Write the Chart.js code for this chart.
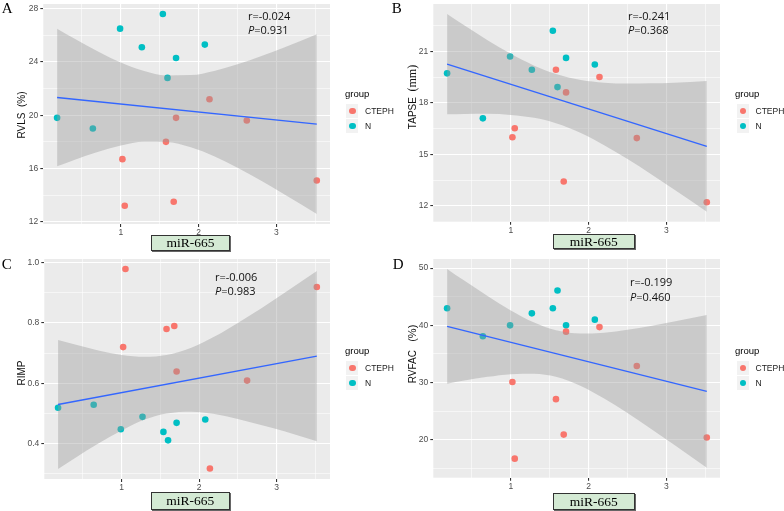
<!DOCTYPE html>
<html><head><meta charset="utf-8">
<script src="https://cdn.jsdelivr.net/npm/chart.js@4.4.1/dist/chart.umd.min.js"></script>
<style>
html,body{margin:0;padding:0;background:#fff;}
#wrap{position:relative;width:784px;height:511px;overflow:hidden;background:#fff;}
canvas{position:absolute;}
.t{position:absolute;white-space:nowrap;}
.letter{font-family:'Liberation Serif',serif;font-size:15px;line-height:15px;color:#000;}
.ann{font-family:'Open Sans',sans-serif;font-size:11px;line-height:14.4px;color:#111;}
.ytitle{font-family:'Liberation Sans',sans-serif;font-size:10px;line-height:11px;color:#111;transform:translate(-50%,-50%) rotate(-90deg);}
.box{position:absolute;background:#d4ead4;border:1px solid #333;box-shadow:1px 1px 0 #666;font-family:'Liberation Serif',serif;font-size:13.5px;text-align:center;box-sizing:border-box;color:#000;}
.lg{position:absolute;white-space:nowrap;font-family:'Liberation Sans',sans-serif;color:#000;}
.key{position:absolute;width:12px;height:14.5px;background:#f2f2f2;}
.dot{position:absolute;width:6.6px;height:6.6px;border-radius:50%;}
</style></head>
<body>
<div id="wrap"></div>
<script>
// ---------------- data ----------------
const groups = ['CTEPH', 'N'];
const groupColors = ['#F8766D', '#00BFC4'];
const xLabel = 'miR-665';

// miR-665 expression (x) for each group
const xCTEPH = [1.02, 1.05, 1.58, 1.68, 1.71, 2.14, 2.62, 3.52];
const xN     = [0.18, 0.64, 0.99, 1.27, 1.54, 1.60, 1.71, 2.08];

// y variables
const rvlsCTEPH  = [16.7, 13.2, 18.0, 13.5, 19.8, 21.2, 19.6, 15.1];
const rvlsN      = [19.8, 19.0, 26.5, 25.1, 27.6, 22.8, 24.3, 25.3];
const tapseCTEPH = [16.0, 16.52, 19.93, 13.42, 18.61, 19.51, 15.95, 12.21];
const tapseN     = [19.72, 17.1, 20.7, 19.93, 22.2, 18.92, 20.62, 20.24];
const rimpCTEPH  = [0.72, 0.979, 0.78, 0.79, 0.639, 0.318, 0.609, 0.919];
const rimpN      = [0.519, 0.529, 0.448, 0.489, 0.439, 0.411, 0.469, 0.480];
const rvfacCTEPH = [30.1, 16.7, 27.1, 20.9, 38.9, 39.7, 32.9, 20.4];
const rvfacN     = [43.0, 38.1, 40.0, 42.1, 43.0, 46.1, 40.0, 41.0];

// fitted line ends and confidence band
const fitX = [0.18, 3.52];
const rvlsFit  = [21.33, 19.33];
const tapseFit = [20.26, 15.47];
const rimpFit  = [0.530, 0.690];
const rvfacFit = [39.83, 28.47];
const bandX = [0.18, 0.4, 0.7, 1.0, 1.3, 1.58, 1.9, 2.2, 2.5, 2.8, 3.1, 3.52];
const rvlsUpper  = [26.50, 25.76, 24.81, 23.96, 23.32, 22.99, 23.01, 23.32, 23.82, 24.43, 25.09, 26.08];
const rvlsLower  = [16.16, 16.64, 17.23, 17.72, 18.00, 17.99, 17.59, 16.92, 16.06, 15.09, 14.07, 12.58];
const tapseUpper = [23.18, 22.52, 21.65, 20.86, 20.17, 19.68, 19.33, 19.18, 19.13, 19.14, 19.18, 19.28];
const tapseLower = [17.34, 17.36, 17.37, 17.30, 17.13, 16.82, 16.25, 15.54, 14.73, 13.86, 12.96, 11.66];
const rimpUpper  = [0.744, 0.729, 0.709, 0.694, 0.688, 0.694, 0.718, 0.755, 0.800, 0.848, 0.899, 0.972];
const rimpLower  = [0.316, 0.353, 0.401, 0.444, 0.480, 0.500, 0.506, 0.498, 0.482, 0.462, 0.441, 0.408];
const rvfacUpper = [49.87, 47.82, 45.12, 42.61, 40.49, 39.14, 38.56, 38.71, 39.22, 39.90, 40.67, 41.83];
const rvfacLower = [29.79, 30.34, 31.00, 31.47, 31.55, 31.00, 29.40, 27.21, 24.66, 21.94, 19.13, 15.11];

// ticks
const xTicks = [1, 2, 3];
const xTickLabels = ['1', '2', '3'];
const xMinor = [0.5, 1.5, 2.5, 3.5];
const rvlsTicks = [12, 16, 20, 24, 28];   const rvlsTickLabels = ['12', '16', '20', '24', '28'];   const rvlsMinor = [14, 18, 22, 26];
const tapseTicks = [12, 15, 18, 21];      const tapseTickLabels = ['12', '15', '18', '21'];       const tapseMinor = [13.5, 16.5, 19.5, 22.5];
const rimpTicks = [0.4, 0.6, 0.8, 1.0];   const rimpTickLabels = ['0.4', '0.6', '0.8', '1.0'];    const rimpMinor = [0.3, 0.5, 0.7, 0.9];
const rvfacTicks = [20, 30, 40, 50];      const rvfacTickLabels = ['20', '30', '40', '50'];       const rvfacMinor = [15, 25, 35, 45];

// stats text
const statR = ['r=-0.024', 'r=-0.241', 'r=-0.006', 'r=-0.199'];
const statP = ['0.931', '0.368', '0.983', '0.460'];
const panelLetters = ['A', 'B', 'C', 'D'];

// ---------------- layout ----------------
const panels = [
  {left:0, top:0, w:390, h:255, area:{l:43.3, t:1.5, r:330, b:224}, yMin:11.83, yMax:28.35,
   yC:rvlsCTEPH, yN:rvlsN, fit:rvlsFit, up:rvlsUpper, lo:rvlsLower, ticks:rvlsTicks, tickLabels:rvlsTickLabels, minor:rvlsMinor},
  {left:390, top:0, w:394, h:255, area:{l:43.3, t:1, r:330, b:221.7}, yMin:11.08, yMax:23.76,
   yC:tapseCTEPH, yN:tapseN, fit:tapseFit, up:tapseUpper, lo:tapseLower, ticks:tapseTicks, tickLabels:tapseTickLabels, minor:tapseMinor},
  {left:0, top:255, w:390, h:256, area:{l:44.3, t:1, r:330, b:224}, yMin:0.283, yMax:1.012,
   yC:rimpCTEPH, yN:rimpN, fit:rimpFit, up:rimpUpper, lo:rimpLower, ticks:rimpTicks, tickLabels:rimpTickLabels, minor:rimpMinor},
  {left:390, top:255, w:394, h:256, area:{l:43.3, t:1.7, r:330, b:222.7}, yMin:13.37, yMax:51.6,
   yC:rvfacCTEPH, yN:rvfacN, fit:rvfacFit, up:rvfacUpper, lo:rvfacLower, ticks:rvfacTicks, tickLabels:rvfacTickLabels, minor:rvfacMinor}
];

const wrap = document.getElementById('wrap');

const bgPlugin = {
  id: 'panelBg',
  beforeDraw(chart) {
    const a = chart.chartArea, ctx = chart.ctx;
    ctx.save(); ctx.fillStyle = '#EBEBEB';
    ctx.fillRect(a.left, a.top, a.right - a.left, a.bottom - a.top);
    ctx.restore();
  }
};

function isIn(arr, v) { return arr.some(a => Math.abs(a - v) < 1e-9); }

function makeChart(p) {
  const c = document.createElement('canvas');
  c.width = p.w; c.height = p.h;
  c.style.left = p.left + 'px'; c.style.top = p.top + 'px';
  c.style.width = p.w + 'px'; c.style.height = p.h + 'px';
  wrap.appendChild(c);
  const xAll = xMinor.concat(xTicks).sort((a, b) => a - b);
  const yAll = p.minor.concat(p.ticks).sort((a, b) => a - b);
  new Chart(c, {
    type: 'scatter',
    data: { datasets: [
      { label: groups[0], data: xCTEPH.map((x, i) => ({x, y: p.yC[i]})), backgroundColor: groupColors[0], borderColor: groupColors[0], borderWidth: 0, pointRadius: 3.3, order: 3 },
      { label: groups[1], data: xN.map((x, i) => ({x, y: p.yN[i]})), backgroundColor: groupColors[1], borderColor: groupColors[1], borderWidth: 0, pointRadius: 3.3, order: 3 },
      { type: 'line', label: 'upper', data: bandX.map((x, i) => ({x, y: p.up[i]})), borderColor: 'rgba(0,0,0,0)', borderWidth: 1, pointRadius: 0,
        fill: '+1', backgroundColor: 'rgba(153,153,153,0.4)', cubicInterpolationMode: 'monotone', order: 2 },
      { type: 'line', label: 'lower', data: bandX.map((x, i) => ({x, y: p.lo[i]})), borderColor: 'rgba(0,0,0,0)', borderWidth: 1, pointRadius: 0,
        fill: false, cubicInterpolationMode: 'monotone', order: 2 },
      { type: 'line', label: 'fit', data: fitX.map((x, i) => ({x, y: p.fit[i]})), borderColor: '#3366FF', borderWidth: 1.4, pointRadius: 0, fill: false, order: 1 }
    ]},
    options: {
      responsive: false, animation: false, devicePixelRatio: 1,
      events: [],
      layout: { padding: { left: 0, top: p.area.t, right: p.w - p.area.r, bottom: 0 } },
      plugins: { legend: { display: false }, tooltip: { enabled: false } },
      scales: {
        x: {
          type: 'linear', min: 0.0025, max: 3.69,
          afterBuildTicks: s => { s.ticks = xAll.map(v => ({value: v})); },
          afterFit: s => { s.height = p.h - p.area.b; s.paddingLeft = 0; s.paddingRight = 0; },
          ticks: { autoSkip: false, maxRotation: 0, minRotation: 0, padding: 1, color: '#4d4d4d',
            font: { family: 'Liberation Sans', size: 8.5 },
            callback: v => { const i = xTicks.findIndex(t => Math.abs(t - v) < 1e-9); return i >= 0 ? xTickLabels[i] : ''; } },
          grid: { color: '#ffffff', lineWidth: ctx => (ctx.tick && isIn(xTicks, ctx.tick.value)) ? 1.1 : 0.55,
            tickColor: ctx => (ctx.tick && isIn(xTicks, ctx.tick.value)) ? '#333333' : 'rgba(0,0,0,0)',
            tickLength: 3, drawTicks: true },
          border: { display: false }
        },
        y: {
          type: 'linear', min: p.yMin, max: p.yMax,
          afterBuildTicks: s => { s.ticks = yAll.map(v => ({value: v})); },
          afterFit: s => { s.width = p.area.l; s.paddingTop = 0; s.paddingBottom = 0; },
          ticks: { autoSkip: false, padding: 2, color: '#4d4d4d',
            font: { family: 'Liberation Sans', size: 8.5 },
            callback: v => { const i = p.ticks.findIndex(t => Math.abs(t - v) < 1e-9); return i >= 0 ? p.tickLabels[i] : ''; } },
          grid: { color: '#ffffff', lineWidth: ctx => (ctx.tick && isIn(p.ticks, ctx.tick.value)) ? 1.1 : 0.55,
            tickColor: ctx => (ctx.tick && isIn(p.ticks, ctx.tick.value)) ? '#333333' : 'rgba(0,0,0,0)',
            tickLength: 3, drawTicks: true },
          border: { display: false }
        }
      }
    },
    plugins: [bgPlugin]
  });
}
panels.forEach(makeChart);

// ---------------- text overlays ----------------
function addText(cls, left, top, html, extra) {
  const d = document.createElement('div');
  d.className = 't ' + cls;
  d.style.left = left + 'px'; d.style.top = top + 'px';
  if (extra) Object.assign(d.style, extra);
  d.innerHTML = html;
  wrap.appendChild(d);
  return d;
}

// panel letters
[[1.7, 0.7], [391.7, 0.7], [1.7, 257.4], [392.7, 257.4]].forEach((pos, i) => addText('letter', pos[0], pos[1], panelLetters[i]));

// r / P annotations
[[248, 9.0], [628, 8.6], [215, 269.6], [630, 275.3]].forEach((pos, i) =>
  addText('ann', pos[0], pos[1], statR[i] + '<br><i>P</i>=' + statP[i]));

// y titles
addText('ytitle', 20.5, 115, 'RVLS&nbsp;&nbsp;(%)');
addText('ytitle', 411.5, 97, 'TAPSE&nbsp;&nbsp;<span style="font-family:\'Liberation Serif\',serif;font-size:12px">(mm)</span>');
addText('ytitle', 21, 372.5, 'RIMP');
addText('ytitle', 411.5, 354, 'RVFAC&nbsp;&nbsp;&nbsp;<span style="font-size:11px">(%)</span>');

// x label boxes
[[151, 235, 79, 15.5], [552.7, 234.3, 82.3, 15], [150.7, 492.3, 79.3, 17.7], [552.7, 492.7, 82.3, 17.3]].forEach(b => {
  const d = document.createElement('div');
  d.className = 'box';
  d.style.left = b[0] + 'px'; d.style.top = b[1] + 'px';
  d.style.width = b[2] + 'px'; d.style.height = b[3] + 'px';
  d.style.lineHeight = (b[3] - 2) + 'px';
  d.textContent = xLabel;
  wrap.appendChild(d);
});

// legends
function addLegend(gx, gy, dotX, dotYs) {
  addText('lg', gx, gy, 'group', {fontSize: '9.5px', lineHeight: '10px'});
  groups.forEach((g, i) => {
    const k = document.createElement('div');
    k.className = 'key';
    k.style.left = (dotX - 6) + 'px'; k.style.top = (dotYs[i] - 7.25) + 'px';
    wrap.appendChild(k);
    const d = document.createElement('div');
    d.className = 'dot';
    d.style.background = groupColors[i];
    d.style.left = (dotX - 3.3) + 'px'; d.style.top = (dotYs[i] - 3.3) + 'px';
    wrap.appendChild(d);
    addText('lg', dotX + 12.7, dotYs[i] - 5, g, {fontSize: '8.5px', lineHeight: '10px', color: '#1a1a1a'});
  });
}
addLegend(345, 89.2, 352.3, [111, 126]);
addLegend(735, 89.2, 742.8, [111, 126]);
addLegend(345, 345.9, 352.3, [368, 383]);
addLegend(735, 345.9, 742.8, [368, 383]);
</script>
</body></html>
